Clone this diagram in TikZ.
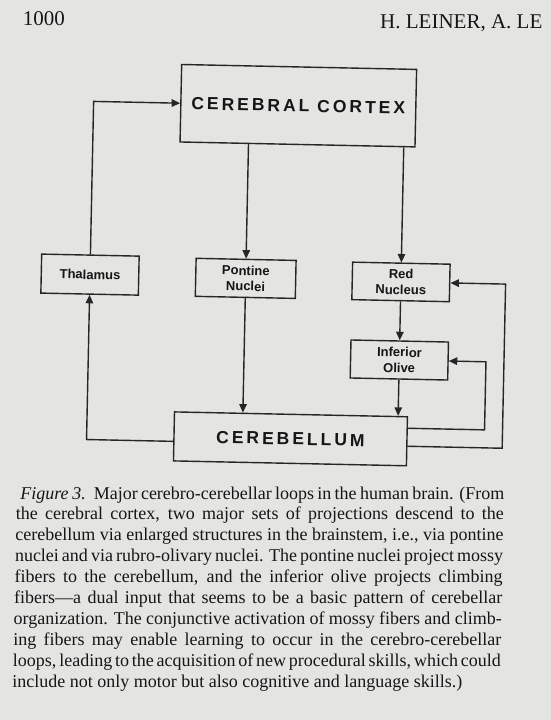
\documentclass[tikz,border=0pt]{standalone}
\usepackage{fontspec}
\setmainfont{Liberation Serif}
\newfontfamily\diagsans{Liberation Sans}
\newfontfamily\spacedsans[LetterSpace=17]{Liberation Sans}
\usetikzlibrary{arrows.meta}
\definecolor{paper}{RGB}{228,228,226}
\definecolor{ink}{RGB}{38,38,38}
\definecolor{textink}{RGB}{22,22,22}
\newcommand\capfont{\fontsize{18}{21}\selectfont\fontdimen4\font=0.12em\fontdimen3\font=0.4em}
\begin{document}
\begin{tikzpicture}[x=1pt,y=-1pt,
  box/.style={draw=ink, line width=1.4pt, inner sep=0pt, align=center, text=textink,
    font=\diagsans\bfseries\fontsize{13}{15.7}\selectfont},
  bigbox/.style={box, font=\spacedsans\bfseries\fontsize{17.5}{20}\selectfont},
  arr/.style={draw=ink, line width=1.4pt, -{Triangle[length=8.5pt,width=7.5pt]}},
  capline/.style={anchor=base west, inner sep=0pt, text=textink, font=\capfont},
  head/.style={anchor=base west, inner sep=0pt, text=textink, font=\fontsize{21}{24}\selectfont}]
\fill[paper] (0,0) rectangle (551,720);
\useasboundingbox (0,0) rectangle (551,720);

\node[head] (pagenum) at (22.7,25) {1000};
\node[head] (authors) at (380,28.3) {H. LEINER, A. LE};

\begin{scope}[rotate around={-1.2:(275,360)}, transform shape]
  \node[bigbox, minimum width=235pt, minimum height=77.5pt] (cortex) at (293,105.25) {CEREBRAL CORTEX};
  \node[bigbox, minimum width=233pt, minimum height=49pt] (cerebellum) at (292.1,438.5) {CEREBELLUM};
  \node[box, minimum width=97.5pt, minimum height=39pt] (thalamus) at (88.25,278.5) {Thalamus};
  \node[box, minimum width=100pt, minimum height=38pt] (pontine) at (244,279) {Pontine\\Nuclei};
  \node[box, minimum width=97.5pt, minimum height=37.5pt] (red) at (399.3,279.3) {Red\\Nucleus};
  \node[box, minimum width=97.5pt, minimum height=38pt] (olive) at (399.3,357.4) {Inferior\\Olive};

  \draw[arr] (cortex.south -| pontine.north) -- (pontine.north);
  \draw[arr] (cortex.south -| red.north) -- (red.north);
  \draw[arr] (pontine.south) -- (pontine.south |- cerebellum.north);
  \draw[arr] (red.south) -- (olive.north);
  \draw[arr] (olive.south) -- (olive.south |- cerebellum.north);
  \draw[arr] ([yshift=-5pt]cerebellum.west) -| (thalamus.south);
  \draw[arr] (thalamus.north) |- (cortex.west);
  \coordinate (oliveturn) at (486,357.4);
  \draw[arr] ([yshift=13pt]cerebellum.east) -| (oliveturn) -- (olive.east);
  \coordinate (redturn) at (504,279.3);
  \draw[arr] ([yshift=-5pt]cerebellum.east) -| (redturn) -- (red.east);
\end{scope}

\node[capline] (c1) at (16.1,499.0) {\makebox[488pt][s]{\hspace*{4pt}\textit{Figure 3.}\hspace{8pt}Major cerebro-cerebellar loops in the human brain. (From}};
\node[capline] (c2) at (15.7,519.9) {\makebox[488pt][s]{the cerebral cortex, two major sets of projections descend to the}};
\node[capline] (c3) at (15.3,540.8) {\makebox[488pt][s]{cerebellum via enlarged structures in the brainstem, i.e., via pontine}};
\node[capline] (c4) at (14.8,561.7) {\makebox[488pt][s]{nuclei and via rubro-olivary nuclei. The pontine nuclei project mossy}};
\node[capline] (c5) at (14.4,582.6) {\makebox[488pt][s]{fibers to the cerebellum, and the inferior olive projects climbing}};
\node[capline] (c6) at (14.0,603.5) {\makebox[488pt][s]{fibers---a dual input that seems to be a basic pattern of cerebellar}};
\node[capline] (c7) at (13.5,624.4) {\makebox[488pt][s]{organization. The conjunctive activation of mossy fibers and climb-}};
\node[capline] (c8) at (13.1,645.3) {\makebox[488pt][s]{ing fibers may enable learning to occur in the cerebro-cerebellar}};
\node[capline] (c9) at (12.7,666.2) {\makebox[488pt][s]{loops, leading to the acquisition of new procedural skills, which could}};
\node[capline] (c10) at (12.2,687.1) {include not only motor but also cognitive and language skills.)};
\end{tikzpicture}
\end{document}
